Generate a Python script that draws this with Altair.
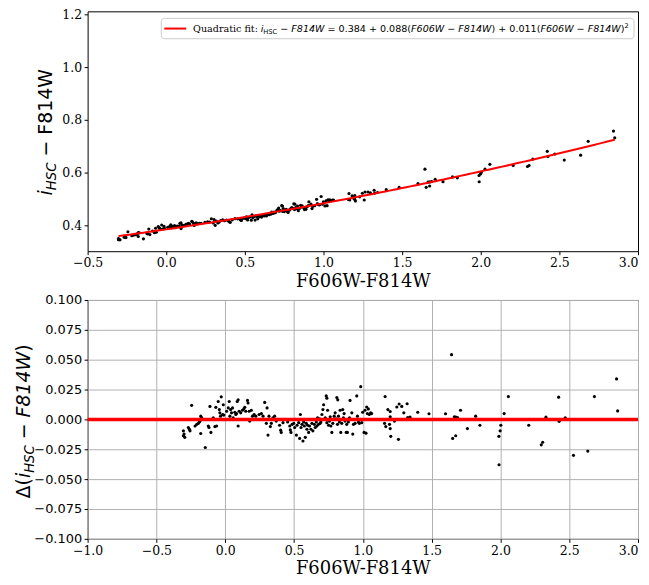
import altair as alt
import numpy as np
import pandas as pd

# ---------------- data ----------------
f606w_f814w = [
    -0.304, -0.299, -0.294, -0.304, -0.268, -0.256, -0.260, -0.244, -0.219, -0.207,
    -0.195, -0.188, -0.183, -0.178, -0.178, -0.171, -0.145, -0.123, -0.118, -0.111,
    -0.104, -0.087, -0.075, -0.063, -0.068, -0.051, -0.043, -0.039, -0.034, -0.029,
    -0.014, -0.019, -0.010, 0.010, 0.022, 0.029, 0.034, 0.039, 0.046, 0.053,
    0.058, 0.070, 0.077, 0.087, 0.094, 0.082, 0.094, 0.101, 0.113, 0.125,
    0.135, 0.142, 0.149, 0.162, 0.166, 0.174, 0.178, 0.190, 0.198, 0.210,
    0.222, 0.246, 0.263, 0.275, 0.287, 0.304, 0.299, 0.311, 0.318, 0.328,
    0.335, 0.347, 0.359, 0.371, 0.383, 0.395, 0.403, 0.407, 0.420,
    0.437, 0.454, 0.469, 0.473, 0.478, 0.486, 0.498, 0.505, 0.510, 0.517,
    0.522, 0.534, 0.541, 0.546, 0.551, 0.558, 0.565, 0.570, 0.575, 0.582,
    0.589, 0.594, 0.599, 0.606, 0.613, 0.623, 0.630, 0.637, 0.647, 0.654,
    0.662, 0.666, 0.671, 0.678, 0.686, 0.690, 0.695, 0.703, 0.710, 0.715,
    0.719, 0.727, 0.734, 0.739, 0.739, 0.744, 0.751, 0.758, 0.763, 0.768,
    0.775, 0.782, 0.787, 0.792, 0.799, 0.806, 0.811, 0.818, 0.816, 0.823,
    0.830, 0.835, 0.840, 0.847, 0.854, 0.859, 0.864, 0.871, 0.879, 0.883,
    0.888, 0.895, 0.903, 0.907, 0.920, 0.927, 0.932, 0.944, 0.956, 0.961,
    0.968, 0.975, 0.985, 0.992, 0.999, 1.009, 1.016, 1.023, 1.028, 1.033,
    1.040, 1.047, 1.057, 1.064,
    1.158, 1.162, 1.167, 1.182, 1.194, 1.199, 1.199, 1.199, 1.203, 1.230,
    1.247, 1.259, 1.264, 1.283, 1.298, 1.322, 1.326, 1.343, 1.399, 1.481,
    1.601, 1.645, 1.653, 1.665, 1.675, 1.676, 1.688, 1.710, 1.760, 1.820,
    1.851, 1.989, 1.990, 1.998, 2.003, 2.027, 2.058, 2.206, 2.297, 2.307,
    2.331, 2.423, 2.427, 2.471, 2.531, 2.635, 2.683, 2.844, 2.852,
]
delta_ihsc_f814w = [
    -0.0096, -0.0123, -0.0150, -0.0137, -0.0068, -0.0096, -0.0082, 0.0118, -0.0055, -0.0041,
    -0.0033, -0.0022, -0.0014, -0.0118, 0.0027, 0.0014, -0.0235, -0.0055, -0.0068, 0.0109,
    -0.0109, 0.0014, -0.0060, -0.0055, 0.0101, 0.0150, 0.0082, 0.0055, 0.0027, 0.0189,
    0.0123, 0.0041, 0.0036, 0.0068, 0.0096, 0.0150, 0.0027, 0.0082, 0.0055, 0.0096,
    0.0014, 0.0060, 0.0041, 0.0150, 0.0164, 0.0049, -0.0055, 0.0068, 0.0055, 0.0077,
    0.0088, 0.0101, 0.0068, 0.0159, 0.0137, 0.0068, -0.0014, 0.0077, 0.0027, 0.0041,
    0.0027, 0.0041, 0.0049, 0.0027, 0.0142, 0.0096, -0.0033, -0.0131, 0.0027, -0.0060,
    -0.0033, 0.0014, 0.0027, -0.0014, 0.0000, -0.0049, -0.0090, -0.0109, -0.0027,
    0.0000, -0.0022, -0.0055, -0.0088, -0.0109, -0.0041, -0.0033, -0.0068, 0.0000, -0.0131,
    -0.0049, -0.0027, -0.0159, 0.0041, -0.0068, -0.0041, -0.0181, -0.0022, -0.0055, -0.0150,
    -0.0033, -0.0082, -0.0049, -0.0109, -0.0055, -0.0082, -0.0033, -0.0096, -0.0041, -0.0068,
    -0.0022, -0.0055, 0.0014, -0.0041, 0.0005, -0.0033, -0.0022, 0.0041, 0.0082, 0.0123,
    0.0000, 0.0014, 0.0197, 0.0178, -0.0027, 0.0077, -0.0049, -0.0014, 0.0022, -0.0055,
    -0.0109, -0.0033, 0.0000, 0.0027, 0.0055, 0.0005, 0.0183, 0.0164, -0.0041, 0.0027,
    -0.0022, 0.0077, -0.0109, -0.0033, 0.0082, 0.0014, 0.0049, -0.0014, -0.0109, -0.0041,
    -0.0109, -0.0022, 0.0014, 0.0159, 0.0055, -0.0123, -0.0041, -0.0033, 0.0197, 0.0027,
    -0.0022, -0.0033, 0.0274, -0.0027, 0.0060, -0.0109, 0.0077, -0.0115, 0.0104, 0.0049,
    0.0088, 0.0041, 0.0055, 0.0049,
    -0.0033, 0.0191, -0.0060, 0.0082, -0.0041, 0.0066, 0.0022, -0.0077, -0.0142, -0.0014,
    0.0104, -0.0167, 0.0129, 0.0109, 0.0055, 0.0131, 0.0016, 0.0019, 0.0060, 0.0047,
    0.0047, 0.0542, -0.0159, 0.0022, -0.0137, 0.0019, 0.0016, 0.0077, -0.0077, 0.0027,
    -0.0049, -0.0142, -0.0380, -0.0096, -0.0049, 0.0049, 0.0191, -0.0049, -0.0213, -0.0191,
    0.0019, 0.0186, -0.0016, 0.0014, -0.0301, -0.0265, 0.0191, 0.0339, 0.0071,
]
fit_coeffs = [0.384, 0.088, 0.011]  # from the legend

top_x_ticks = [-0.5, 0.0, 0.5, 1.0, 1.5, 2.0, 2.5, 3.0]
top_y_ticks = [0.4, 0.6, 0.8, 1.0, 1.2]
bot_x_ticks = [-1.0, -0.5, 0.0, 0.5, 1.0, 1.5, 2.0, 2.5, 3.0]
bot_y_ticks = [-0.100, -0.075, -0.050, -0.025, 0.000, 0.025, 0.050, 0.075, 0.100]

# ---------------- derived tables ----------------
c0, c1, c2 = fit_coeffs
xa = np.array(f606w_f814w)
da = np.array(delta_ihsc_f814w)
pts = pd.DataFrame({
    "color": xa,
    "ihsc": c0 + c1 * xa + c2 * xa ** 2 + da,   # measured = fit + residual
    "resid": da,
})
xs = np.linspace(xa.min(), xa.max(), 120)
fit_df = pd.DataFrame({"color": xs, "ihsc": c0 + c1 * xs + c2 * xs ** 2})
zero_df = pd.DataFrame({"resid": [0.0]})
one = pd.DataFrame({"k": [0]})

SERIF = "DejaVu Serif"
SANS = "DejaVu Sans"
W = 553
H_TOP = 241
H_BOT = 240

SANS_W = {' ': 0.318, '(': 0.390, ')': 0.390, '+': 0.838, '=': 0.838, '\u2212': 0.838,
          '.': 0.318, 'C': 0.698, 'F': 0.575, 'H': 0.752, 'S': 0.635, 'W': 0.989,
          'i': 0.278, '\u0394': 0.684}
for d in "0123456789":
    SANS_W[d] = 0.636
SERIF_W = {'Q': 0.787, 'u': 0.644, 'a': 0.596, 'd': 0.640, 'r': 0.478, 't': 0.402,
           'i': 0.320, 'c': 0.560, 'f': 0.352, ':': 0.337, ' ': 0.318}


def width_of(s, size, serif):
    table = SERIF_W if serif else SANS_W
    return size * sum(table.get(ch, 0.6) for ch in s)


def run_width(segs):
    return sum(width_of(t, s, sf) for t, s, it, sf, sh in segs)


def text_run(segs, x0, y0, angle, start):
    layers = []
    off = start
    for txt, size, italic, serif, shift in segs:
        lead = txt[: len(txt) - len(txt.lstrip())]
        core = txt.strip()
        layers.append(
            alt.Chart(one).mark_text(
                align="left", baseline="alphabetic", angle=angle,
                dx=off + width_of(lead, size, serif), dy=shift,
                fontSize=size, font=SERIF if serif else SANS,
                fontStyle="italic" if italic else "normal", color="black",
            ).encode(x=alt.value(x0), y=alt.value(y0), text=alt.value(core))
        )
        off += width_of(txt, size, serif)
    return layers


def x_axis(values, grid):
    return alt.Axis(values=values, format=".1f", title="F606W-F814W",
                    titleFont=SERIF, titleFontSize=18, titleFontWeight="normal",
                    titleColor="black", titlePadding=3,
                    labelFont=SERIF, labelFontSize=12.5, labelColor="black",
                    labelPadding=2, labelFlush=False, labelOverlap=False,
                    labelAlign={"expr": "datum.value >= 2.99 ? 'right' : 'center'"},
                    tickSize=3.5, tickColor="black", domain=False,
                    grid=grid, gridColor="#b0b0b0", gridWidth=1)


# ---------------- top panel ----------------
xt = alt.X("color:Q", scale=alt.Scale(domain=[-0.5, 3.0], nice=False, zero=False),
           axis=x_axis(top_x_ticks, False))
yt = alt.Y("ihsc:Q", scale=alt.Scale(domain=[0.301, 1.212], nice=False, zero=False),
           axis=alt.Axis(values=top_y_ticks, format=".1f", title=None, grid=False,
                         labelFont=SERIF, labelFontSize=12.5, labelColor="black",
                         labelPadding=2.5, labelFlush=False, labelOverlap=False,
                         tickSize=3.5, tickColor="black", domain=False))

top_pts = alt.Chart(pts).mark_circle(size=10, color="black", opacity=1).encode(x=xt, y=yt)
top_fit = alt.Chart(fit_df).mark_line(color="#ff0000", strokeWidth=2).encode(x=xt, y=yt)

legend_box = alt.Chart(one).mark_rect(
    fill="white", fillOpacity=0.8, stroke="#cccccc", strokeWidth=1, cornerRadius=3
).encode(x=alt.value(74), x2=alt.value(549), y=alt.value(7), y2=alt.value(27.5))
legend_line = alt.Chart(one).mark_rule(color="#ff0000", strokeWidth=2).encode(
    x=alt.value(77), x2=alt.value(99), y=alt.value(17.3))

LF = 9.6
LS = LF * 0.7
legend_segs = [
    ("Quadratic fit: ", LF, False, True, 0),
    ("i", LF, True, False, 0),
    ("HSC", LS, False, False, 2),
    (" \u2212 ", LF, False, False, 0),
    ("F814W", LF, True, False, 0),
    (" = 0.384 + 0.088(", LF, False, False, 0),
    ("F606W \u2212 F814W", LF, True, False, 0),
    (") + 0.011(", LF, False, False, 0),
    ("F606W \u2212 F814W", LF, True, False, 0),
    (")", LF, False, False, 0),
    ("2", LS, False, False, -4),
]
legend_text = text_run(legend_segs, 106, 20.8, 0, 0)

TF = 19
TS = TF * 0.7
top_title_segs = [
    ("i", TF, True, False, 0),
    ("HSC", TS, True, False, 4.5),
    (" \u2212 ", TF, False, False, 0),
    ("F814W", TF, False, False, 0),
]
top_title = text_run(top_title_segs, -36, H_TOP / 2 + 1, 270, -run_width(top_title_segs) / 2)

top = alt.layer(top_pts, top_fit, legend_box, legend_line, *legend_text, *top_title).properties(
    width=W, height=H_TOP)

# ---------------- bottom panel ----------------
xb = alt.X("color:Q", scale=alt.Scale(domain=[-1.0, 3.0], nice=False, zero=False),
           axis=x_axis(bot_x_ticks, True))
yb = alt.Y("resid:Q", scale=alt.Scale(domain=[-0.1, 0.1], nice=False, zero=False),
           axis=alt.Axis(values=bot_y_ticks, format=".3f", title=None,
                         labelFont=SANS, labelFontSize=13, labelColor="black",
                         labelPadding=2.5, labelFlush=False, labelOverlap=False,
                         tickSize=3.5, tickColor="black", domain=False,
                         grid=True, gridColor="#b0b0b0", gridWidth=1))

bot_pts = alt.Chart(pts).mark_circle(size=10, color="black", opacity=1).encode(x=xb, y=yb)
bot_zero = alt.Chart(zero_df).mark_rule(color="#ff0000", strokeWidth=3.5).encode(y=yb)

bot_title_segs = [
    ("\u0394(", TF, False, False, 0),
    ("i", TF, True, False, 0),
    ("HSC", TS, True, False, 4.5),
    (" \u2212 ", TF, False, False, 0),
    ("F814W", TF, True, False, 0),
    (")", TF, False, False, 0),
]
bot_title = text_run(bot_title_segs, -58, H_BOT / 2 + 2, 270, -run_width(bot_title_segs) / 2)

bot = alt.layer(bot_pts, bot_zero, *bot_title).properties(width=W, height=H_BOT)

chart = alt.vconcat(top, bot, spacing=2).properties(
    padding={"left": 6, "top": -2, "right": 0, "bottom": 0},
    background="white",
).configure_view(stroke="black", strokeWidth=1)

chart.save("out.html", embed_options={"renderer": "svg", "actions": False})
